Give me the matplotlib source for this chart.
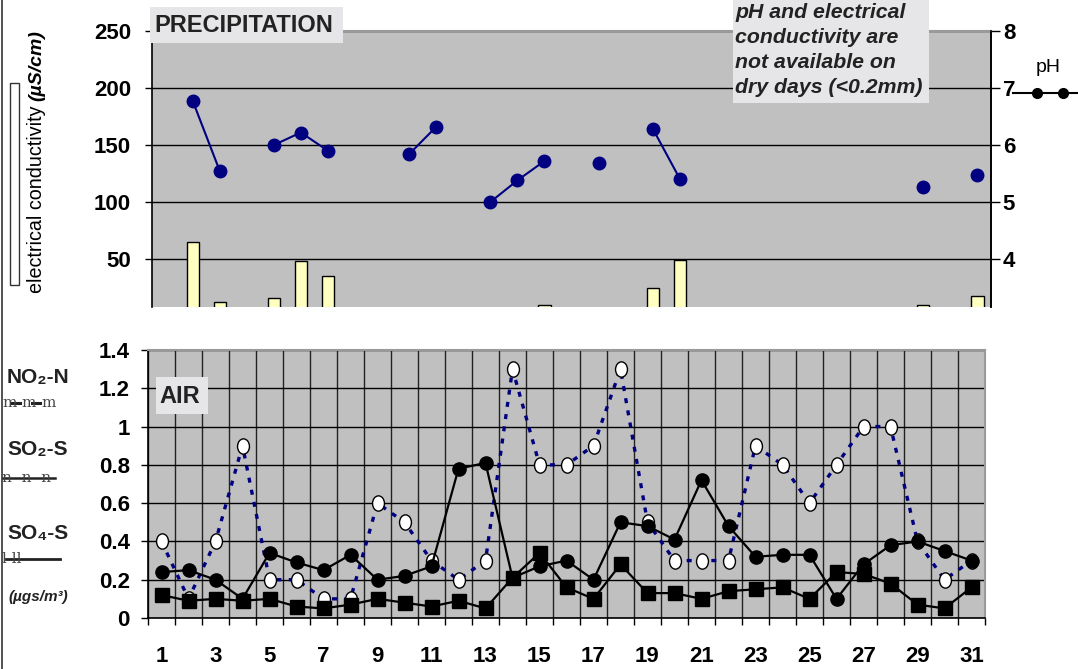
import numpy as np
import matplotlib.pyplot as plt
from matplotlib.patches import Rectangle
from matplotlib.lines import Line2D
from matplotlib.path import Path
from matplotlib.transforms import Affine2D

plt.rcParams['font.family'] = ['Liberation Sans', 'DejaVu Sans']

nan = np.nan
days = np.arange(1, 32)

# precipitation: electrical conductivity (uS/cm) bars and pH (dry days missing)
cond_days = [2, 3, 5, 6, 7, 15, 19, 20, 29, 31]
cond_vals = [65, 12, 16, 48, 35, 10, 25, 49, 10, 18]
ph = [nan, 6.78, 5.55, nan, 6.0, 6.22, 5.9, nan, nan, 5.84, 6.32, nan, 5.0, 5.38, 5.72, nan,
      5.69, nan, 6.29, 5.41, nan, nan, nan, nan, nan, nan, nan, nan, 5.26, nan, 5.47]

# air (ugs/m3)
no2 = [0.4, 0.1, 0.4, 0.9, 0.2, 0.2, 0.1, 0.1, 0.6, 0.5, 0.3, 0.2, 0.3, 1.3, 0.8, 0.8,
       0.9, 1.3, 0.5, 0.3, 0.3, 0.3, 0.9, 0.8, 0.6, 0.8, 1.0, 1.0, 0.4, 0.2, 0.3]
so4 = [0.24, 0.25, 0.2, 0.1, 0.34, 0.29, 0.25, 0.33, 0.2, 0.22, 0.27, 0.78, 0.81, 0.21, 0.27, 0.3,
       0.2, 0.5, 0.48, 0.41, 0.72, 0.48, 0.32, 0.33, 0.33, 0.1, 0.28, 0.38, 0.4, 0.35, 0.3]
so2 = [0.12, 0.09, 0.1, 0.09, 0.1, 0.06, 0.05, 0.07, 0.1, 0.08, 0.06, 0.09, 0.05, 0.21, 0.34, 0.16,
       0.1, 0.28, 0.13, 0.13, 0.1, 0.14, 0.15, 0.16, 0.1, 0.24, 0.23, 0.18, 0.07, 0.05, 0.16]

W, H = 1078, 669
def fx(p): return p / W
def fy(p): return 1 - p / H

fig = plt.figure(figsize=(W / 100, H / 100), dpi=100)
gray = '#C0C0C0'
boxc = '#E6E6E8'
navy = '#000080'
tick_fs = 16

# ---------------- top panel ----------------
ax1 = fig.add_axes([fx(152), fy(307), fx(991 - 152), (307 - 31) / H])
ax1.set_facecolor(gray)
ax1.bar(cond_days, cond_vals, width=0.45, bottom=0, color='#FFFFC0', edgecolor='black', lw=1, zorder=3)
ax1.set_xlim(0.5, 31.5)
ax1.set_ylim(8, 250)
ax1.set_yticks([50, 100, 150, 200, 250])
ax1.set_xticks([])
ax1.grid(axis='y', color='black', lw=1)
ax1.set_axisbelow(True)
ax1.tick_params(axis='y', direction='out', length=5, width=1, pad=10, labelsize=tick_fs)
for t in ax1.get_yticklabels():
    t.set_fontweight('bold')
ax1.spines['bottom'].set_visible(False)
ax1.spines['top'].set_color('#999999')
ax1.spines['top'].set_linewidth(1.5)
ax1.spines['left'].set_linewidth(1.2)
ax1.spines['right'].set_linewidth(1.2)

ax1b = ax1.twinx()
ax1b.plot(days, ph, color=navy, lw=1.5, marker='o', ms=9, zorder=5)
ax1b.set_ylim(3 + 8 / 50, 8)
ax1b.set_yticks([4, 5, 6, 7, 8])
ax1b.tick_params(axis='y', direction='out', length=6.5, width=1, pad=2, labelsize=tick_fs)
for t in ax1b.get_yticklabels():
    t.set_fontweight('bold')
for s in ['top', 'bottom', 'left']:
    ax1b.spines[s].set_visible(False)
ax1b.spines['right'].set_linewidth(1.2)

# ---------------- bottom panel ----------------
ax2 = fig.add_axes([fx(148), fy(618), fx(985 - 148), (618 - 350) / H])
ax2.set_facecolor(gray)
ell = Path.unit_circle().transformed(Affine2D().scale(0.78, 1.0))
ax2.plot(days, no2, color=navy, lw=2.4, ls=(0, (1.5, 2.2)), marker=ell, ms=11,
         mfc='white', mec='black', mew=1, zorder=3)
ax2.plot(days, so4, color='black', lw=1.6, marker='o', ms=9.5, zorder=4)
ax2.plot(days, so2, color='black', lw=1.6, marker='s', ms=10, zorder=5)
ax2.set_xlim(0.5, 31.5)
ax2.set_ylim(0, 1.4)
ax2.set_yticks(np.arange(0, 1.41, 0.2))
ax2.set_yticklabels(['0', '0.2', '0.4', '0.6', '0.8', '1', '1.2', '1.4'])
ax2.set_xticks(np.arange(1, 32, 2))
ax2.set_xticks(np.arange(0.5, 32, 1), minor=True)
ax2.grid(axis='y', which='major', color='black', lw=1)
ax2.grid(axis='x', which='minor', color='#222222', lw=1)
ax2.set_axisbelow(True)
ax2.tick_params(axis='x', which='major', length=0, pad=20, labelsize=tick_fs)
ax2.tick_params(axis='x', which='minor', length=5, width=1, direction='out')
ax2.tick_params(axis='y', direction='out', length=5, width=1, pad=8, labelsize=tick_fs)
for t in ax2.get_xticklabels() + ax2.get_yticklabels():
    t.set_fontweight('bold')
for s in ['top', 'right']:
    ax2.spines[s].set_color('#999999')
    ax2.spines[s].set_linewidth(1.5)
ax2.spines['left'].set_linewidth(1.2)
ax2.spines['bottom'].set_linewidth(1.2)

# ---------------- labels / boxes ----------------
fig.patches.append(Rectangle((fx(150), fy(43)), fx(343 - 150), 36 / H, transform=fig.transFigure,
                             facecolor=boxc, edgecolor='none', zorder=5))
fig.text(fx(154), fy(25), 'PRECIPITATION', fontsize=17, fontweight='bold', color='#222222',
         va='center', ha='left', zorder=6)

fig.patches.append(Rectangle((fx(156), fy(414)), fx(52), 37 / H, transform=fig.transFigure,
                             facecolor=boxc, edgecolor='none', zorder=5))
fig.text(fx(159), fy(396), 'AIR', fontsize=17, fontweight='bold', color='#222222',
         va='center', ha='left', zorder=6)

fig.patches.append(Rectangle((fx(733), fy(103)), fx(929 - 733), 103 / H, transform=fig.transFigure,
                             facecolor=boxc, edgecolor='none', zorder=5))
for i, line in enumerate(['pH and electrical', 'conductivity are', 'not available on', 'dry days (<0.2mm)']):
    fig.text(fx(735), fy(12 + 25.3 * i), line, fontsize=15.3, fontweight='bold', style='italic',
             color='#222222', va='center', ha='left', zorder=6)

# right pH legend
fig.text(fx(1048), fy(67), 'pH', fontsize=14, ha='center', va='center')
fig.lines.append(Line2D([fx(1013), fx(1037), fx(1063), fx(1078)], [fy(93)] * 4, transform=fig.transFigure,
                        color='black', lw=1.5, marker='o', ms=7, markevery=[1, 2]))

# left: conductivity label
fig.patches.append(Rectangle((fx(10), fy(285)), fx(9), (285 - 83) / H, transform=fig.transFigure,
                             facecolor='white', edgecolor='#333333', lw=1))
fig.text(fx(37), fy(293), 'electrical conductivity', rotation=90, fontsize=14.2, ha='center', va='bottom')
fig.text(fx(37), fy(101), '(µS/cm)', rotation=90, fontsize=14, ha='center', va='bottom',
         style='italic', fontweight='bold')

# left: air legend
for y, lab in [(378, 'NO₂-N'), (450, 'SO₂-S'), (533, 'SO₄-S')]:
    fig.text(fx(7), fy(y), lab, fontsize=15, fontweight='bold', color='#222222', va='center', ha='left')
sym = dict(fontsize=11, family='DejaVu Serif', color='#444444', va='baseline', ha='left')
fig.text(fx(2), fy(407), 'm', **sym)
fig.text(fx(21), fy(407), 'm', **sym)
fig.text(fx(41), fy(407), 'm', **sym)
for a, b in [(12, 20), (32, 40)]:
    fig.lines.append(Line2D([fx(a), fx(b)], [fy(403)] * 2, transform=fig.transFigure, color='#222222', lw=2.2))
fig.text(fx(2), fy(482), 'n  n  n', **sym)
fig.lines.append(Line2D([fx(3), fx(55)], [fy(478)] * 2, transform=fig.transFigure, color='#222222', lw=1.8))
fig.text(fx(2), fy(563), 'l ll', **sym)
fig.lines.append(Line2D([fx(6), fx(60)], [fy(559)] * 2, transform=fig.transFigure, color='#222222', lw=2))
fig.text(fx(8), fy(597), '(µgs/m³)', fontsize=11, fontweight='bold', style='italic', color='#222222',
         va='center', ha='left')

# frame line on the left edge
fig.lines.append(Line2D([fx(2), fx(2)], [0, 1], transform=fig.transFigure, color='#333333', lw=1.2))

fig.savefig('out.png', dpi=100)
